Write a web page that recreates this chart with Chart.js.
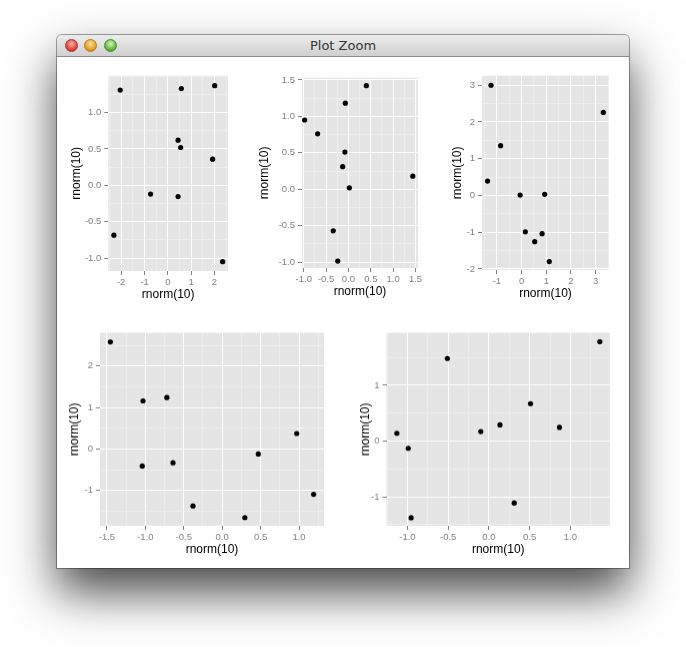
<!DOCTYPE html>
<html>
<head>
<meta charset="utf-8">
<script src="https://cdn.jsdelivr.net/npm/chart.js"></script>
<style>
  body { margin: 0; width: 686px; height: 647px; overflow: hidden; position: relative; background: #fff; }
  #win {
    position: absolute; left: 57px; top: 35px; width: 572px; height: 533px;
    background: #fff; border-radius: 5px 5px 0 0;
    box-shadow: 0 24px 48px rgba(0, 0, 0, 0.72), 0 0 0 1px rgba(0, 0, 0, 0.35);
  }
  #bar {
    height: 21px; border-bottom: 1px solid #8c8c8c; border-radius: 5px 5px 0 0;
    background: linear-gradient(#ececec, #d0d0d0);
    font: 13px "DejaVu Sans", sans-serif; color: #333; text-align: center; line-height: 22px;
  }
  .light { position: absolute; top: 4px; width: 13px; height: 13px; border-radius: 50%; box-sizing: border-box; }
  .red { left: 8px; background: radial-gradient(circle at 50% 35%, #ffb3ad, #e2463f 60%, #b3241e); border: 1px solid #a33; }
  .yel { left: 27px; background: radial-gradient(circle at 50% 35%, #ffe2a0, #e3a226 60%, #b37811); border: 1px solid #b07a1a; }
  .grn { left: 47px; background: radial-gradient(circle at 50% 35%, #d5f5b5, #68b945 60%, #3e8a26); border: 1px solid #4a8a30; }
  canvas { position: absolute; }
</style>
</head>
<body>
<div id="win">
  <div id="bar">Plot Zoom
    <span class="light red"></span><span class="light yel"></span><span class="light grn"></span>
  </div>
</div>
<canvas id="c1"></canvas>
<canvas id="c2"></canvas>
<canvas id="c3"></canvas>
<canvas id="c4"></canvas>
<canvas id="c5"></canvas>
<script>
// five rnorm(10) vs rnorm(10) scatter plots
const p1X = [-2.04, 0.58, 2.01, 0.44, 0.55, 1.92, -0.74, 0.44, -2.31, 2.35];
const p1Y = [1.31, 1.33, 1.37, 0.62, 0.52, 0.36, -0.12, -0.155, -0.685, -1.05];
const p2X = [0.40, -0.07, -0.98, -0.69, -0.08, -0.13, 0.02, 1.44, -0.34, -0.24];
const p2Y = [1.42, 1.18, 0.95, 0.76, 0.51, 0.31, 0.02, 0.18, -0.57, -0.985];
const p3X = [-1.24, 3.31, -0.85, -1.38, -0.06, 0.935, 0.15, 0.83, 0.53, 1.12];
const p3Y = [3.0, 2.26, 1.355, 0.39, 0.01, 0.03, -0.99, -1.04, -1.26, -1.80];
const p4X = [-1.455, -1.03, -0.72, 0.97, 0.47, -1.04, -0.64, 1.19, -0.38, 0.295];
const p4Y = [2.58, 1.16, 1.24, 0.375, -0.12, -0.41, -0.33, -1.09, -1.37, -1.65];
const p5X = [1.36, -0.51, 0.51, 0.135, -0.10, 0.865, -1.13, -0.99, 0.31, -0.955];
const p5Y = [1.78, 1.48, 0.67, 0.29, 0.17, 0.245, 0.14, -0.13, -1.11, -1.375];

// tick labels
const p1XTicks = ["-2", "-1", "0", "1", "2"];
const p1YTicks = ["-1.0", "-0.5", "0.0", "0.5", "1.0"];
const p2XTicks = ["-1.0", "-0.5", "0.0", "0.5", "1.0", "1.5"];
const p2YTicks = ["-1.0", "-0.5", "0.0", "0.5", "1.0", "1.5"];
const p3XTicks = ["-1", "0", "1", "2", "3"];
const p3YTicks = ["-2", "-1", "0", "1", "2", "3"];
const p4XTicks = ["-1.5", "-1.0", "-0.5", "0.0", "0.5", "1.0"];
const p4YTicks = ["-1", "0", "1", "2"];
const p5XTicks = ["-1.0", "-0.5", "0.0", "0.5", "1.0"];
const p5YTicks = ["-1", "0", "1"];

const xTitle = "rnorm(10)";
const yTitle = "rnorm(10)";

const FONT = "'Liberation Sans', Arial, sans-serif";

const panelBg = {
  id: "panelBg",
  beforeDraw(chart) {
    const { ctx, chartArea: a } = chart;
    ctx.save();
    ctx.fillStyle = "#E5E5E5";
    ctx.fillRect(a.left, a.top, a.right - a.left, a.bottom - a.top);
    ctx.restore();
  },
};

function axis(lim, labels, title, isX, size) {
  const step = parseFloat(labels[1]) - parseFloat(labels[0]);
  const find = (v) => labels.find((l) => Math.abs(parseFloat(l) - v) < 1e-6);
  const major = (c) => c.tick && find(c.tick.value) !== undefined;
  return {
    type: "linear",
    position: isX ? "bottom" : "left",
    min: lim[0],
    max: lim[1],
    afterFit(s) {
      if (isX) s.height = size;
      else s.width = size;
    },
    border: { display: false },
    grid: {
      color: (c) => (major(c) ? "#FFFFFF" : "#F2F2F2"),
      lineWidth: (c) => (major(c) ? 1 : 0.6),
      tickColor: (c) => (major(c) ? "#7F7F7F" : "rgba(0,0,0,0)"),
      tickWidth: 1,
      tickLength: 4,
    },
    ticks: {
      stepSize: step / 2,
      autoSkip: false,
      includeBounds: false,
      maxRotation: 0,
      padding: isX ? 2 : 3,
      color: "#7F7F7F",
      font: { family: FONT, size: 9.5 },
      callback: (v) => find(v) || "",
    },
    title: {
      display: true,
      text: title,
      color: "#000",
      padding: 0,
      font: { family: FONT, size: 12, lineHeight: 1 },
    },
  };
}

// panel box on the page: left, top, right, bottom, y title centre
function scatter(id, box, xs, ys, xLim, yLim, xTicks, yTicks) {
  const [L, T, R, B, tx] = box;
  const left = tx - 6;
  const top = T - 8;
  const w = R - left + 12;
  const h = B - T + 8 + 30;
  const cv = document.getElementById(id);
  cv.width = w;
  cv.height = h;
  cv.style.left = left + "px";
  cv.style.top = top + "px";
  cv.style.width = w + "px";
  cv.style.height = h + "px";
  new Chart(cv, {
    type: "scatter",
    data: {
      datasets: [
        {
          data: xs.map((x, i) => ({ x: x, y: ys[i] })),
          pointRadius: 2.6,
          pointBorderWidth: 0,
          pointBackgroundColor: "#000",
          clip: false,
        },
      ],
    },
    options: {
      responsive: false,
      animation: false,
      devicePixelRatio: 1,
      layout: { padding: { top: 8, right: 12, left: 0, bottom: 0 } },
      plugins: { legend: { display: false }, tooltip: { enabled: false } },
      scales: {
        x: axis(xLim, xTicks, xTitle, true, 30),
        y: axis(yLim, yTicks, yTitle, false, L - left),
      },
    },
    plugins: [panelBg],
  });
}

scatter("c1", [108, 75, 228, 271, 76.7], p1X, p1Y, [-2.55, 2.58], [-1.178, 1.507], p1XTicks, p1YTicks);
scatter("c2", [302, 77, 418, 268, 265], p2X, p2Y, [-1.04, 1.556], [-1.08, 1.53], p2XTicks, p2YTicks);
scatter("c3", [482, 75, 609, 270, 458], p3X, p3Y, [-1.605, 3.54], [-2.03, 3.26], p3XTicks, p3YTicks);
scatter("c4", [100, 332, 324, 525.5, 75], p4X, p4Y, [-1.59, 1.325], [-1.85, 2.80], p4XTicks, p4YTicks);
scatter("c5", [386.5, 332, 610, 525.5, 366], p5X, p5Y, [-1.257, 1.485], [-1.52, 1.94], p5XTicks, p5YTicks);
</script>
</body>
</html>
